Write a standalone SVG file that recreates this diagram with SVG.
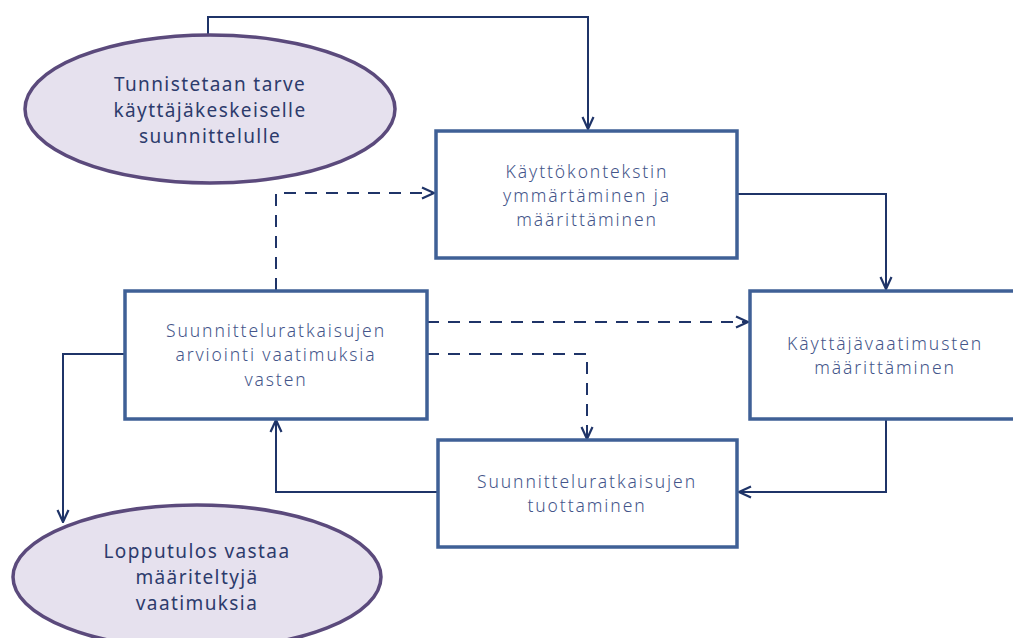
<svg xmlns="http://www.w3.org/2000/svg" width="1013" height="638" viewBox="0 0 1013 638">
  <style>
    .box { fill: #ffffff; stroke: #3f6096; stroke-width: 3.5; }
    .oval { fill: #e6e1ee; stroke: #5b4a7c; stroke-width: 3.5; }
    .link { fill: none; stroke: #1f3468; stroke-width: 2; }
    .dash { stroke-dasharray: 12 9; }
    .btxt { font-family: "Noto Sans", "DejaVu Sans", sans-serif; font-size: 17.5px; font-weight: 300; fill: #44558a; text-anchor: middle; letter-spacing: 1.9px; }
    .otxt { font-family: "Noto Sans", "DejaVu Sans", sans-serif; font-size: 19px; fill: #2d3b6c; text-anchor: middle; letter-spacing: 1.4px; }
  </style>
  <defs>
    <marker id="arrow" viewBox="0 0 14 14" refX="13" refY="7" markerWidth="14" markerHeight="14" markerUnits="userSpaceOnUse" orient="auto">
      <path d="M1,1.5 L13,7 L1,12.5" fill="none" stroke="#1f3468" stroke-width="2.2"/>
    </marker>
  </defs>

  <g id="connectors">
    <path class="link" d="M208,36 V17 H588 V129" marker-end="url(#arrow)"/>
    <path class="link" d="M737,194 H886 V289" marker-end="url(#arrow)"/>
    <path class="link" d="M886,420 V492 H739" marker-end="url(#arrow)"/>
    <path class="link" d="M437,492 H276 V420" marker-end="url(#arrow)"/>
    <path class="link" d="M125,354 H63 V522" marker-end="url(#arrow)"/>
    <path class="link dash" d="M276,290 V193 H434" marker-end="url(#arrow)"/>
    <path class="link dash" d="M427,322 H748" marker-end="url(#arrow)"/>
    <path class="link dash" d="M427,354 H587 V439" marker-end="url(#arrow)"/>
  </g>

  <g id="start">
    <ellipse class="oval" cx="210" cy="109" rx="185" ry="74"/>
    <text class="otxt" x="210" y="91">Tunnistetaan tarve</text>
    <text class="otxt" x="210" y="117">käyttäjäkeskeiselle</text>
    <text class="otxt" x="210" y="143">suunnittelulle</text>
  </g>

  <g id="context">
    <rect class="box" x="436" y="131" width="301" height="127"/>
    <text class="btxt" x="587" y="178">Käyttökontekstin</text>
    <text class="btxt" x="587" y="202">ymmärtäminen ja</text>
    <text class="btxt" x="587" y="226">määrittäminen</text>
  </g>

  <g id="requirements">
    <rect class="box" x="750" y="291" width="280" height="128"/>
    <text class="btxt" x="885" y="350">Käyttäjävaatimusten</text>
    <text class="btxt" x="885" y="374">määrittäminen</text>
  </g>

  <g id="design">
    <rect class="box" x="438" y="440" width="299" height="107"/>
    <text class="btxt" x="587" y="488">Suunnitteluratkaisujen</text>
    <text class="btxt" x="587" y="512">tuottaminen</text>
  </g>

  <g id="evaluation">
    <rect class="box" x="125" y="291" width="302" height="128"/>
    <text class="btxt" x="276" y="337">Suunnitteluratkaisujen</text>
    <text class="btxt" x="276" y="361">arviointi vaatimuksia</text>
    <text class="btxt" x="276" y="386">vasten</text>
  </g>

  <g id="end">
    <ellipse class="oval" cx="197" cy="577" rx="184" ry="72"/>
    <text class="otxt" x="197" y="558">Lopputulos vastaa</text>
    <text class="otxt" x="197" y="584">määriteltyjä</text>
    <text class="otxt" x="197" y="610">vaatimuksia</text>
  </g>
</svg>
